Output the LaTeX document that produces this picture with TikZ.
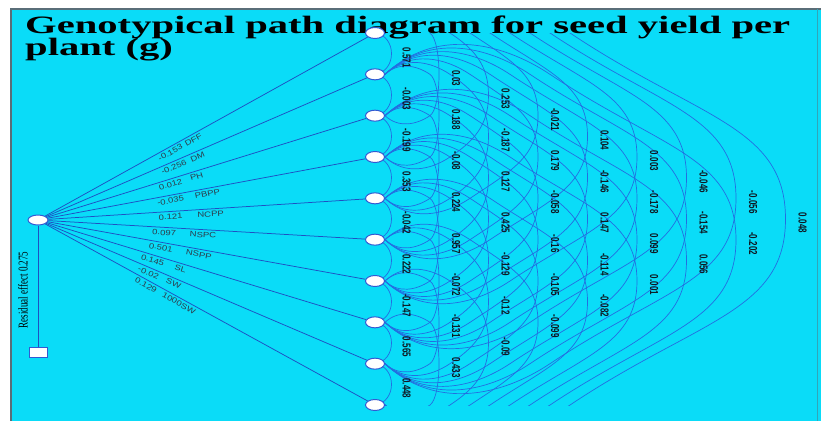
\documentclass[tikz,border=0pt]{standalone}
\usepackage{fontspec}
\setmainfont{Liberation Serif}
\setsansfont{Liberation Sans}
\usetikzlibrary{shapes.geometric}
\pgfdeclarelayer{bglayer}
\pgfdeclarelayer{arclayer}
\pgfsetlayers{bglayer,arclayer,main}
\definecolor{bgc}{RGB}{10,220,248}
\definecolor{arcc}{RGB}{35,110,225}
\definecolor{linec}{RGB}{30,80,195}
\definecolor{nodeb}{RGB}{50,90,210}
\definecolor{lblc}{RGB}{15,25,35}
\definecolor{plc}{RGB}{45,60,75}
\definecolor{framec}{RGB}{90,110,120}
\newsavebox\ttlbox
\begin{document}
\sbox\ttlbox{\fontsize{25}{22}\selectfont\bfseries Genotypical path diagram for seed yield per}%
\pgfmathsetmacro\tsx{765/\the\wd\ttlbox}%
\begin{tikzpicture}[x=1pt,y=-1pt,
  varnode/.style={ellipse, draw=nodeb, fill=white, line width=1pt, minimum width=19pt, minimum height=11pt, inner sep=0pt},
  resnode/.style={rectangle, draw=nodeb, fill=white, line width=1pt, minimum width=18pt, minimum height=10pt, inner sep=0pt},
  arcline/.style={draw=arcc, line width=0.7pt},
  spoke/.style={draw=linec, line width=0.75pt},
  numlbl/.style={font=\sffamily\bfseries\fontsize{8}{9}\selectfont, text=lblc, rotate=-90, inner sep=0pt},
  pathlbl/.style={font=\sffamily\fontsize{7.6}{9}\selectfont, text=plc, sloped, below, inner sep=2.2pt},
  ttl/.style={anchor=base west, inner sep=0pt, text=black}]
\useasboundingbox (0,0) rectangle (821,421);
\begin{pgfonlayer}{bglayer}
  \fill[white] (0,0) rectangle (821,421);
  \fill[bgc] (11,9) rectangle (821,421);
  \draw[framec, line width=1.2pt] (11,421) -- (11,9) -- (821,9);
  \draw[framec!50!bgc, line width=0.6pt] (817,9) -- (817,421);
\end{pgfonlayer}
% title
\node[ttl] (t1) at (25,33) {\scalebox{\tsx}[1]{\usebox\ttlbox}};
\node[ttl] (t2) at (25,55) {\scalebox{\tsx}[1]{\fontsize{25}{22}\selectfont\bfseries plant (g)}};
% variable nodes
\foreach \k in {0,...,9}{
  \node[varnode] (v\k) at (375,{33+41.333*\k}) {};
}
% source and residual
\node[varnode, minimum width=20pt, minimum height=10pt] (src) at (38,220) {};
\node[resnode] (res) at (38,352) {};
\draw[spoke] (src) -- (res);
\node[rotate=90, inner sep=0pt, font=\fontsize{9}{10}\selectfont, text=black] (reslbl) at (23,290) {\scalebox{1}[1.5]{Residual effect 0.275}};
% correlation arcs
\begin{pgfonlayer}{arclayer}
\begin{scope}
  \clip (300,33) rectangle (821,405);
  \foreach \i in {0,...,8}{
    \pgfmathtruncatemacro\js{\i+1}
    \draw[arcline] (v\i.center) .. controls +(22,3) and +(22,-3) .. (v\js.center);
  }
  \foreach \i in {0,...,7}{
    \pgfmathtruncatemacro\js{\i+2}
    \foreach \j in {\js,...,9}{
      \pgfmathsetmacro\dd{\j-\i}
      \pgfmathsetmacro\yi{33+41.333*\i}
      \pgfmathsetmacro\yj{33+41.333*\j}
      \pgfmathsetmacro\ym{(\yi+\yj)/2}
      \pgfmathsetmacro\hh{(\yj-\yi)/2}
      \pgfmathsetmacro\xc{390+20*\dd}
      \pgfmathsetmacro\tx{340+49.5*\dd}
      \pgfmathsetmacro\ww{\xc-384.5}
      \pgfmathsetmacro\dx{\tx-\xc}
      \draw[arcline] (v\i.east)
        .. controls +(0.3*\ww,-0.28*\ww) and (\xc-0.3*\ww,\yi-0.2*\ww) .. (\xc,\yi)
        .. controls +(0.6*\dx,0.4*\dx) and (\tx,\ym-0.5*\hh) .. (\tx,\ym)
        .. controls (\tx,\ym+0.5*\hh) and (\xc+0.6*\dx,\yj-0.4*\dx) .. (\xc,\yj)
        .. controls (\xc-0.3*\ww,\yj+0.2*\ww) and +(0.3*\ww,0.28*\ww) .. (v\j.east);
    }
  }
\end{scope}
% spokes
\foreach \k/\lab/\p in {
   0/{-0.153\hspace{3pt}DFF}/0.41,
   1/{-0.256\hspace{4pt}DM}/0.42,
   2/{0.012\hspace{7pt}PH}/0.415,
   3/{-0.035\hspace{9pt}PBPP}/0.44,
   4/{0.121\hspace{12pt}NCPP}/0.45,
   5/{0.097\hspace{11pt}NSPC}/0.43,
   6/{0.501\hspace{11pt}NSPP}/0.42,
   7/{0.145\hspace{9pt}SL}/0.37,
   8/{-0.02\hspace{7pt}SW}/0.36,
   9/{0.129\hspace{6pt}1000SW}/0.38}{
  \draw[spoke] (src) -- node[pathlbl, pos=\p] {\scalebox{1.25}[1]{\lab}} (v\k);
}
\end{pgfonlayer}
% correlation labels
\foreach \i/\j/\v in {
  0/1/0.571, 1/2/-0.003, 2/3/-0.199, 3/4/0.353, 4/5/-0.042, 5/6/0.222, 6/7/-0.147, 7/8/0.565, 8/9/0.448,
  0/2/0.03, 1/3/0.188, 2/4/-0.08, 3/5/0.224, 4/6/0.957, 5/7/-0.072, 6/8/-0.131, 7/9/0.433,
  0/3/0.253, 1/4/-0.187, 2/5/0.127, 3/6/0.425, 4/7/-0.129, 5/8/-0.12, 6/9/-0.09,
  0/4/-0.021, 1/5/0.179, 2/6/-0.058, 3/7/-0.16, 4/8/-0.105, 5/9/-0.099,
  0/5/0.104, 1/6/-0.146, 2/7/0.147, 3/8/-0.114, 4/9/-0.082,
  0/6/0.003, 1/7/-0.178, 2/8/0.099, 3/9/0.001,
  0/7/-0.046, 1/8/-0.154, 2/9/0.056,
  0/8/-0.056, 1/9/-0.202,
  0/9/0.048}{
  \pgfmathsetmacro\lx{357+49.5*(\j-\i)}
  \pgfmathsetmacro\ly{33+41.333*(\i+\j)/2+4}
  \node[numlbl] (c\i\j) at (\lx,\ly) {\scalebox{1}[1.45]{\v}};
}
\end{tikzpicture}
\end{document}
